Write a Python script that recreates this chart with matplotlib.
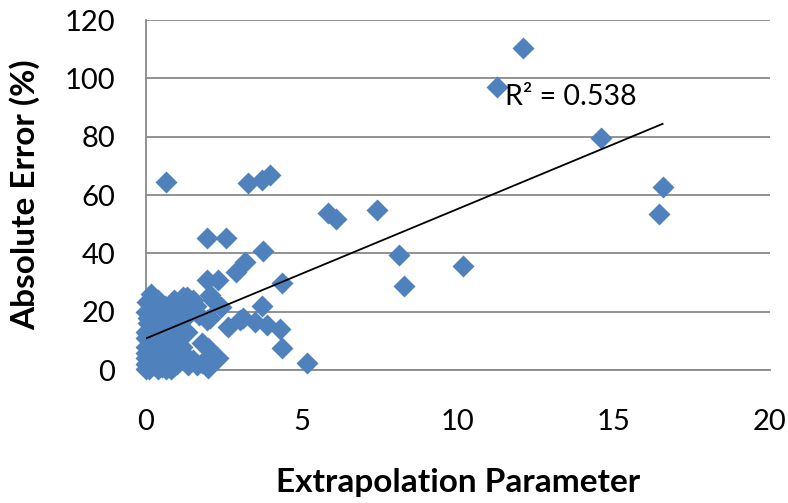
import numpy as np
import matplotlib.pyplot as plt

# extrapolation parameter vs absolute error (%)
ext = [12.1, 11.25, 14.6, 16.56, 16.45, 5.83, 6.1, 7.4, 8.1, 10.16, 8.27,
       5.17, 4.36, 4.3, 3.87, 3.5, 3.1, 3.72, 4.36, 3.27, 3.72, 3.97, 3.75,
       3.17, 2.9, 1.95, 2.56, 0.64, 1.95, 2.3, 2.05, 2.15, 2.4, 2.63, 1.95,
       2.05, 3.0, 1.8, 2.0, 2.3, 1.8, 1.35, 2.0, 1.63, 1.2, 1.5, 0.03, 0.0,
       0.55, 0.87, 0.55, 0.13,
       0.0, 0.0, 0.0, 0.0, 0.0, 0.0, 0.0, 0.05, 0.1, 0.15, 0.2, 0.2, 0.25,
       0.3, 0.3, 0.35, 0.4, 0.45, 0.5, 0.5, 0.6, 0.65, 0.7, 0.75, 0.8, 0.8,
       0.85, 0.9, 0.95, 1.0, 1.0, 1.05, 1.1, 1.15, 1.2, 1.3, 1.4, 1.45, 1.6,
       1.7, 0.4, 0.2, 0.6, 0.9, 1.3, 1.1, 1.25, 1.5, 0.65, 0.3, 0.05, 0.15,
       0.1, 0.4, 0.9, 0.25]
err = [110.3, 97.0, 79.5, 62.8, 53.5, 53.8, 51.8, 54.8, 39.4, 35.7, 28.8,
       2.4, 7.6, 14.0, 15.4, 16.5, 17.8, 21.9, 29.8, 64.2, 65.1, 66.8, 40.8,
       37.0, 33.6, 45.1, 45.1, 64.5, 30.9, 30.9, 25.7, 24.0, 21.6, 14.8, 17.0,
       18.0, 17.0, 9.3, 7.5, 4.1, 2.4, 1.7, 0.7, 1.7, 25.0, 24.0, 23.4, 20.0,
       20.0, 21.3, 16.0, 9.6,
       0.5, 2.0, 4.0, 6.0, 8.0, 11.0, 13.0, 16.0, 1.0, 3.0, 5.0, 7.0, 12.0,
       18.0, 22.0, 2.0, 10.0, 14.0, 4.0, 1.0, 7.0, 12.0, 18.0, 3.0, 0.5, 9.0,
       15.0, 6.0, 19.0, 11.0, 2.0, 22.0, 14.0, 8.0, 17.0, 13.0, 20.0, 23.0,
       22.0, 19.0, 24.0, 21.0, 22.0, 24.0, 25.0, 20.0, 5.0, 3.5, 0.5, 14.0,
       18.0, 26.0,
       0.5, 0.5, 1.5, 5.0]
r2_label = "R\u00b2 = 0.538"

plt.rcParams['font.family'] = ['Lato', 'DejaVu Sans']

fig = plt.figure(figsize=(7.88, 5.03), dpi=100)
ax = fig.add_axes([0.1853, 0.2644, 0.7917, 0.6958])

ax.plot(ext, err, 'D', color='#4F81BD', ms=11, mec='none', clip_on=False, zorder=3)

# linear trend line over the data range
b, a = np.polyfit(ext, err, 1)
xs = np.array([min(ext), max(ext)])
ax.plot(xs, a + b * xs, color='black', lw=1.3, zorder=4)
ax.text(11.5, 93.6, r2_label, fontsize=20.5, va='center', ha='left', zorder=5)

ax.set_xlim(0, 20)
ax.set_ylim(0, 120)
ax.set_xticks([0, 5, 10, 15, 20])
ax.set_yticks([0, 20, 40, 60, 80, 100, 120])
ax.yaxis.grid(True, color='#898989', lw=1.3)
ax.set_axisbelow(True)
for s in ['top', 'right']:
    ax.spines[s].set_visible(False)
for s in ['left', 'bottom']:
    ax.spines[s].set_color('#898989')
    ax.spines[s].set_linewidth(1.3)
ax.tick_params(axis='both', length=0, labelsize=21)
ax.tick_params(axis='y', pad=22)
ax.tick_params(axis='x', pad=28)

ax.set_xlabel('Extrapolation Parameter', fontsize=24, fontweight='bold', labelpad=24)
ax.set_ylabel('Absolute Error (%)', fontsize=24, fontweight='bold', labelpad=18)

fig.savefig('out.png', dpi=100)
